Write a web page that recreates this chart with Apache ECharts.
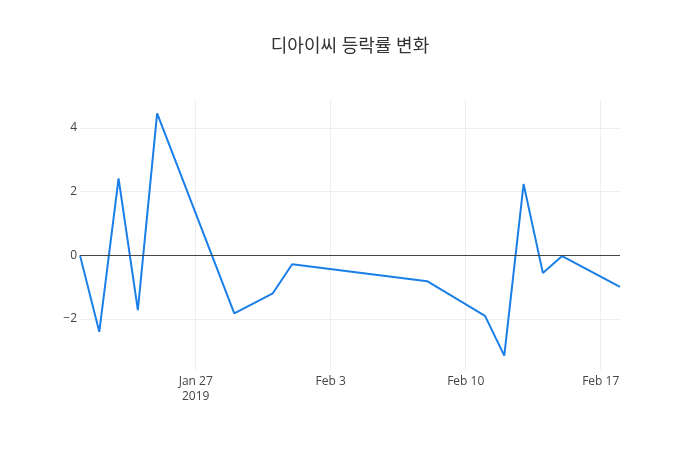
<!DOCTYPE html>
<html>
<head>
<meta charset="utf-8">
<script src="https://cdn.jsdelivr.net/npm/echarts@6/dist/echarts.min.js"></script>
<style>
  html, body { margin: 0; padding: 0; background: #fff; }
  #main { width: 700px; height: 450px; }
</style>
</head>
<body>
<div id="main"></div>
<script>
// 거래일과 등락률(%)
let dates = [
    "2019-01-21", "2019-01-22", "2019-01-23", "2019-01-24", "2019-01-25",
    "2019-01-29", "2019-01-31", "2019-02-01", "2019-02-08", "2019-02-11",
    "2019-02-12", "2019-02-13", "2019-02-14", "2019-02-15", "2019-02-18",
];
let changes = [0, -2.4, 2.42, -1.72, 4.46, -1.82, -1.19, -0.28, -0.81, -1.9, -3.15, 2.24, -0.55, -0.02, -0.99];
let xTicks = ["2019-01-27", "2019-02-03", "2019-02-10", "2019-02-17"];
let yTicks = [-2, 0, 2, 4];

let months = ["Jan", "Feb", "Mar", "Apr", "May", "Jun", "Jul", "Aug", "Sep", "Oct", "Nov", "Dec"];
// date string -> day number (UTC days since epoch)
function toDay(s) {
    let p = s.split("-");
    return Math.round(Date.UTC(+p[0], +p[1] - 1, +p[2]) / 86400000);
}

let dom = document.getElementById("main");
let myChart = echarts.init(dom, null, { renderer: "canvas" });
let font = "'Open Sans', 'Noto Sans CJK KR', sans-serif";
let firstTick = toDay(xTicks[0]);

let option = {
    animation: false,
    title: {
        text: "디아이씨 등락률 변화",
        left: "center",
        top: 33,
        textStyle: { fontFamily: font, fontSize: 18, fontWeight: "normal", color: "#333" },
    },
    grid: { left: 80, right: 80, top: 100, bottom: 80, containLabel: false },
    xAxis: {
        type: "value",
        min: toDay(dates[0]),
        max: toDay(dates[dates.length - 1]),
        axisLine: { show: false },
        axisTick: { show: false, customValues: xTicks.map(toDay) },
        splitLine: { show: true, lineStyle: { color: "#eee", width: 1 } },
        axisLabel: {
            customValues: xTicks.map(toDay),
            margin: 4,
            color: "#444",
            fontFamily: font,
            fontSize: 12,
            lineHeight: 15,
            hideOverlap: false,
            formatter: function (v) {
                let d = new Date(v * 86400000);
                let s = months[d.getUTCMonth()] + " " + d.getUTCDate();
                if (v === firstTick) s += "\n" + d.getUTCFullYear();
                return s;
            },
        },
    },
    yAxis: {
        type: "value",
        min: -3.6,
        max: 4.88,
        axisLine: { show: false },
        axisTick: { show: false, customValues: yTicks },
        splitLine: { show: true, lineStyle: { color: "#eee", width: 1 } },
        axisLabel: {
            customValues: yTicks,
            margin: 3,
            color: "#444",
            fontFamily: font,
            fontSize: 12,
            formatter: function (v) {
                return String(v).replace("-", "\u2212");
            },
        },
    },
    series: [{
        type: "line",
        data: dates.map((d, i) => [toDay(d), changes[i]]),
        showSymbol: false,
        symbol: "none",
        lineStyle: { color: "#1a7fe6", width: 2 },
        itemStyle: { color: "#1a7fe6" },
        markLine: {
            silent: true,
            symbol: "none",
            label: { show: false },
            lineStyle: { color: "#444", width: 1, type: "solid" },
            data: [{ yAxis: 0 }],
        },
    }, ],
};

myChart.setOption(option);
window.addEventListener("resize", myChart.resize);
</script>
</body>
</html>
